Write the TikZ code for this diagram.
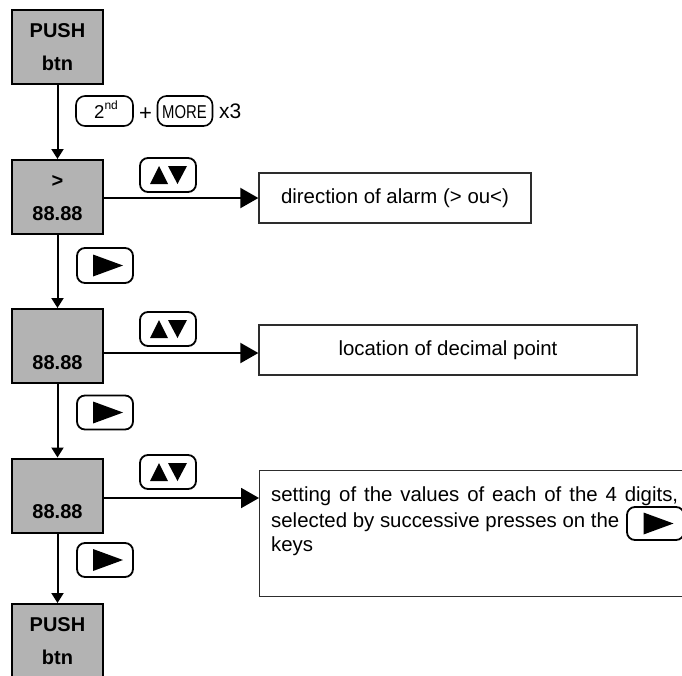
\documentclass[tikz,border=0pt]{standalone}
\usepackage{graphicx}
\usepackage{fontspec}
\setmainfont{Liberation Sans}
\usetikzlibrary{arrows.meta,calc}
\definecolor{boxgray}{RGB}{179,179,179}
\definecolor{edgegray}{RGB}{45,45,45}
\tikzset{
 gbox/.style={draw=black, line width=2pt, fill=boxgray, minimum width=91pt, minimum height=74pt,
   inner sep=0pt, align=center, font=\fontsize{20}{33}\selectfont\bfseries},
 dbox/.style={draw=edgegray, line width=1.3pt, inner sep=0pt, font=\fontsize{20.4}{25}\selectfont},
 keybtn/.style={draw=black, line width=1.8pt, rounded corners=8pt, minimum width=56pt, minimum height=34pt, inner sep=0pt},
 smallkey/.style={draw=black, line width=1.6pt, rounded corners=9pt, minimum height=30pt, inner sep=0pt},
 varrow/.style={line width=2pt, -{Triangle[length=10pt,width=12pt]}},
 harrow/.style={line width=2pt, -{Triangle[length=18pt,width=20pt]}},
 txt/.style={font=\fontsize{20.4}{25}\selectfont, inner sep=0pt},
 lbl/.style={inner sep=0pt, anchor=base west},
}
\newcommand\tripair[1]{%
  \fill ($(#1)+(-18,9)$) -- ($(#1)+(0,9)$) -- ($(#1)+(-9,-9)$) -- cycle;
  \fill ($(#1)+(0,-9)$) -- ($(#1)+(19,-9)$) -- ($(#1)+(9.5,9)$) -- cycle;}
\newcommand\triright[1]{%
  \fill ($(#1)+(-12,-11)$) -- ($(#1)+(-12,11)$) -- ($(#1)+(18,0)$) -- cycle;}
\begin{document}
\begin{tikzpicture}[x=1pt,y=-1pt]
\useasboundingbox (0,0) rectangle (682,675);
\clip (0,0) rectangle (682,675);

% grey display boxes
\node[gbox] (b1) at (57.5,47) {\strut PUSH\\\strut btn};
\node[gbox] (b2) at (57.5,197) {\strut >\\\strut 88.88};
\node[gbox] (b3) at (57.5,346) {\strut\\\strut 88.88};
\node[gbox] (b4) at (57.5,495.5) {\strut\\\strut 88.88};
\node[gbox] (b5) at (57.5,641) {\strut PUSH\\\strut btn};

% description boxes
\node[dbox, minimum width=272pt, minimum height=50pt] (d1) at (395,198) {direction of alarm (> ou<)};
\node[dbox, minimum width=378pt, minimum height=50pt] (d2) at (448,350) {location of decimal point};
\node[dbox, minimum width=430pt, minimum height=126pt, anchor=north west] (d3) at (259,470) {};
\node[txt, anchor=base west] (t1) at (271,501) {\makebox[407pt][s]{setting of the values of each of the 4 digits,}};
\node[txt, anchor=base west] (t2) at (271,527) {selected by successive presses on the};
\node[txt, anchor=base west] (t3) at (271,551) {keys};
\node[keybtn, minimum width=57pt, minimum height=33pt] (kin) at (655.5,523.5) {};
\triright{kin}

% vertical connectors
\draw[varrow] (b1.south) -- (b2.north);
\draw[varrow] (b2.south) -- (b3.north);
\draw[varrow] (b3.south) -- (b4.north);
\draw[varrow] (b4.south) -- (b5.north);

% horizontal connectors
\draw[harrow] ([yshift=-1pt]b2.east) -- ([yshift=-1pt]b2.east -| d1.west);
\draw[harrow] ([yshift=-7pt]b3.east) -- ([yshift=-7pt]b3.east -| d2.west);
\draw[harrow] ([yshift=-2.5pt]b4.east) -- ([yshift=-2.5pt]b4.east -| d3.west);

% key labels on the horizontal connectors
\node[keybtn] (ud1) at (168,175) {};
\node[keybtn] (ud2) at (168,329) {};
\node[keybtn] (ud3) at (168,472) {};
\tripair{ud1}
\tripair{ud2}
\tripair{ud3}

% key labels on the vertical connectors
\node[keybtn, minimum height=35pt] (r1) at (105,265.5) {};
\node[keybtn, minimum height=34pt] (r2) at (105,412.5) {};
\node[keybtn, minimum height=34pt] (r3) at (105,560) {};
\triright{r1}
\triright{r2}
\triright{r3}

% first label: 2nd + MORE x3
\node[smallkey, minimum width=57pt] (k2nd) at (104.5,111) {};
\node[lbl, font=\fontsize{18.6}{20}\selectfont] (l2nd) at (94,118)
  {2\raisebox{8.4pt}{\fontsize{12}{12}\selectfont nd}};
\node[inner sep=0pt, font=\fontsize{22}{24}\selectfont] (lplus) at (145.5,114) {+};
\node[smallkey, minimum width=55pt] (kmore) at (185,111) {};
\node[lbl, font=\fontsize{18.6}{20}\selectfont] (lmore) at (162,118)
  {\scalebox{0.8}[1]{MORE}};
\node[lbl, font=\fontsize{21}{22}\selectfont] (lx3) at (219,118.5) {x3};
\end{tikzpicture}
\end{document}
